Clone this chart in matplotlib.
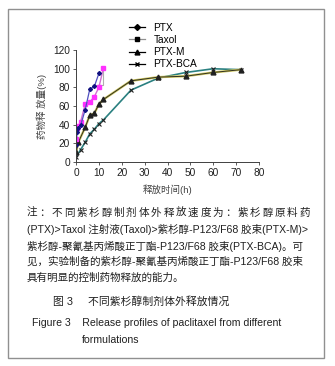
import matplotlib.pyplot as plt
from matplotlib.lines import Line2D
from matplotlib.patches import Rectangle

plt.rcParams['font.family'] = ['Liberation Sans', 'Noto Sans CJK SC', 'DejaVu Sans']

# release data (time in h, cumulative release in %)
ptx_t = [0, 0.5, 1, 2, 4, 6, 8, 10]
ptx_v = [18, 32, 36, 39, 56, 78, 81, 95]
taxol_t = [0, 0.5, 1, 2, 4, 6, 8, 10, 12]
taxol_v = [24, 36, 38, 43, 62, 64, 70, 80, 101]
ptxm_t = [0, 1, 4, 6, 8, 10, 12, 24, 36, 48, 60, 72]
ptxm_v = [10, 21, 37, 50, 52, 62, 67, 87, 91, 92, 96, 99]
bca_t = [0, 2, 4, 6, 8, 10, 12, 24, 36, 48, 60, 72]
bca_v = [5, 13, 21, 30, 35, 41, 45, 77, 90, 96, 100, 99]
# stray grey segment next to the Taxol curve
stray_t = [7.5, 12, 12]
stray_v = [82, 82, 101]

labels = ['PTX', 'Taxol', 'PTX-M', 'PTX-BCA']
xticks = [0, 10, 20, 30, 40, 50, 60, 70, 80]
yticks = [0, 20, 40, 60, 80, 100, 120]

fig = plt.figure(figsize=(3.35, 3.66), dpi=100)
ax = fig.add_axes([0.227, 0.558, 0.546, 0.305])

ax.plot(stray_t, stray_v, color='#b0b0b0', lw=0.8)
ax.plot(bca_t, bca_v, color='#2a8080', lw=1.2, marker='x', ms=3.5, mec='#202020', mew=0.8)
ax.plot(ptxm_t, ptxm_v, color='#d0c860', lw=1.7)
ax.plot(ptxm_t, ptxm_v, color='#303020', lw=0.7, marker='^', ms=3.5, mfc='#202020', mec='#202020')
ax.plot(taxol_t, taxol_v, color='#d070d0', lw=1.0, marker='s', ms=3.3, mfc='#ff30ff', mec='#ff30ff')
ax.plot(ptx_t, ptx_v, color='#5050c0', lw=0.9, marker='D', ms=2, mfc='#101080', mec='#101080')

ax.set_xlim(0, 80)
ax.set_ylim(0, 120)
ax.set_xticks(xticks)
ax.set_yticks(yticks)
for s in ['top', 'right']:
    ax.spines[s].set_visible(False)
for s in ['left', 'bottom']:
    ax.spines[s].set_color('#404040')
    ax.spines[s].set_linewidth(0.7)
ax.tick_params(labelsize=7.3, length=2.5, width=0.6, colors='#404040', labelcolor='#202020', pad=2)
ax.set_xlabel('释放时间(h)', fontsize=6.8, color='#404040', labelpad=5)
ax.set_ylabel('药物释 放量(%)', fontsize=6.8, color='#404040', labelpad=4)

handles = [
    Line2D([], [], color='black', lw=0.9, marker='D', ms=3),
    Line2D([], [], color='#909090', lw=0.9, marker='s', ms=3.5, mfc='black', mec='black'),
    Line2D([], [], color='black', lw=0.9, marker='^', ms=3.5),
    Line2D([], [], color='black', lw=0.9, marker='x', ms=3.5),
]
fig.legend(handles, labels, loc='upper left', bbox_to_anchor=(0.37, 0.952), frameon=False,
           fontsize=7.3, handlelength=1.6, handletextpad=0.8, labelspacing=0.22, borderpad=0)

# outer frame
fig.patches.append(Rectangle((8 / 335, 1 - 358 / 366), 316 / 335, 349 / 366, transform=fig.transFigure,
                             fill=False, edgecolor='#909090', lw=1.0))

first_line = '注：不同紫杉醇制剂体外释放速度为：紫杉醇原料药'
caption = [
    '(PTX)>Taxol 注射液(Taxol)>紫杉醇-P123/F68 胶束(PTX-M)>',
    '紫杉醇-聚氰基丙烯酸正丁酯-P123/F68 胶束(PTX-BCA)。可',
    '见，实验制备的紫杉醇-聚氰基丙烯酸正丁酯-P123/F68 胶束',
    '具有明显的控制药物释放的能力。',
]
cap_y = [229, 246, 262, 278]

# first line is justified across the full text width
n = len(first_line)
step = (310 - 27 - 10.5) / (n - 1)
for i, ch in enumerate(first_line):
    fig.text((27 + i * step) / 335, 1 - 213 / 366, ch, fontsize=7.6, va='center', ha='left', color='#202020')
for line, y in zip(caption, cap_y):
    fig.text(27 / 335, 1 - y / 366, line, fontsize=7.6, va='center', ha='left', color='#202020')

fig.text(53 / 335, 1 - 302 / 366, '图 3     不同紫杉醇制剂体外释放情况', fontsize=7.8, va='center', color='#202020')
fig.text(32 / 335, 1 - 323 / 366, 'Figure 3    Release profiles of paclitaxel from different',
         fontsize=7.6, va='center', color='#202020')
fig.text(82 / 335, 1 - 340 / 366, 'formulations', fontsize=7.6, va='center', color='#202020')

fig.savefig('out.png', dpi=100)
